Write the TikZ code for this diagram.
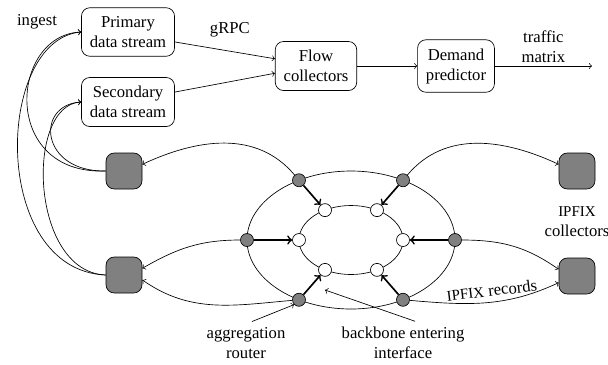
\documentclass[tikz,border=0pt]{standalone}
\usepackage{fontspec}
\setmainfont{Liberation Serif}
\usetikzlibrary{calc}

\begin{document}
\begin{tikzpicture}[x=0.6pt,y=-0.6pt,>=to,
    box/.style={draw,rounded corners=5pt,align=center,inner xsep=5pt,inner ysep=5.2pt},
    router/.style={circle,draw,fill=gray,minimum size=7.8pt,inner sep=0pt},
    iface/.style={circle,draw,fill=white,minimum size=7.8pt,inner sep=0pt},
    collector/.style={draw,fill=gray,rounded corners=5pt,minimum size=21.6pt,inner sep=0pt},
    feed/.style={->,line width=1pt}]
            \useasboundingbox (0,0) rectangle (608,364);

            % processing chain
            \node[box] (prim) at (128,32) {Primary\\data stream};
            \node[box] (sec) at (128,102) {Secondary\\data stream};
            \node[box] (flow) at (316,66) {Flow\\collectors};
            \node[box] (dem) at (456,66) {Demand\\predictor};
            \node (ingest) at (37,22) {ingest};
            \coordinate (tm) at (592,66);

            \draw[->] (prim.-12) -- node[pos=0.55,above=5pt] (grpc) {gRPC} (flow.170);
            \draw[->] (sec.12) -- (flow.190);
            \draw[->] (flow) -- (dem);
            % output of the predictor
            \draw[->] (dem) -- node[above,align=center,inner sep=2pt] (tmlabel) {traffic\\matrix} (tm);

            % the two rings of the backbone
            \coordinate (c) at (351,240);
            \draw (c) ellipse [x radius=62.4pt,y radius=41.4pt];
            \draw (c) ellipse [x radius=31.2pt,y radius=20.7pt];

            % aggregation routers and entering interfaces
            \foreach \a/\n in {60/1,120/2,180/3,240/4,300/5,0/6} {
                \node[router] (r\n) at ($(c)+(\a:62.4pt and 41.4pt)$) {};
                \node[iface] (i\n) at ($(c)+(\a:31.2pt and 20.7pt)$) {};
                \draw[feed] (r\n) -- (i\n);
            }

            % collectors
            \node[collector] (lt) at (124,171) {};
            \node[collector] (lb) at (124,275) {};
            \node[collector] (rt) at (577,171) {};
            \node[collector] (rb) at (577,276) {};
            \node[align=center] (ipfix) at (577,222) {{\small IPFIX}\\collectors};

            % export to the collectors
            \draw[->] (r2) to[out=130,in=25] (lt.20);
            \draw[->] (r1) to[out=50,in=155] (rt.160);
            \draw[->] (r3) to[out=180,in=30] (lb.20);
            \draw[->] (r4) to[out=185,in=-35] (lb.-15);
            \draw[->] (r6) to[out=0,in=145] (rb.160);
            \draw[->] (r5) to[out=-5,in=205] node[sloped,above,pos=0.55] (rec) {{\small IPFIX} records} (rb.200);

            % ingest into the data streams
            \draw[->] (lt.west) .. controls (0,175) and (10,35) .. (prim.west);
            \draw[->] (lt.west) .. controls (40,172) and (35,105) .. (sec.west);
            \draw[->] (lb.west) .. controls (-10,270) and (-5,40) .. (prim.west);
            \draw[->] (lb.west) .. controls (30,272) and (25,105) .. (sec.west);

            % annotations
            \node[align=center] (agg) at (246,343) {aggregation\\router};
            \node[align=center] (bb) at (403,343) {backbone entering\\interface};
            \coordinate (bbtip) at (325,290);
            \draw[->] ($(agg.north)+(6,0)$) -- (r4.south west);
            \draw[->] ($(bb.north)+(12,0)$) -- (bbtip);
        \end{tikzpicture}
\end{document}
